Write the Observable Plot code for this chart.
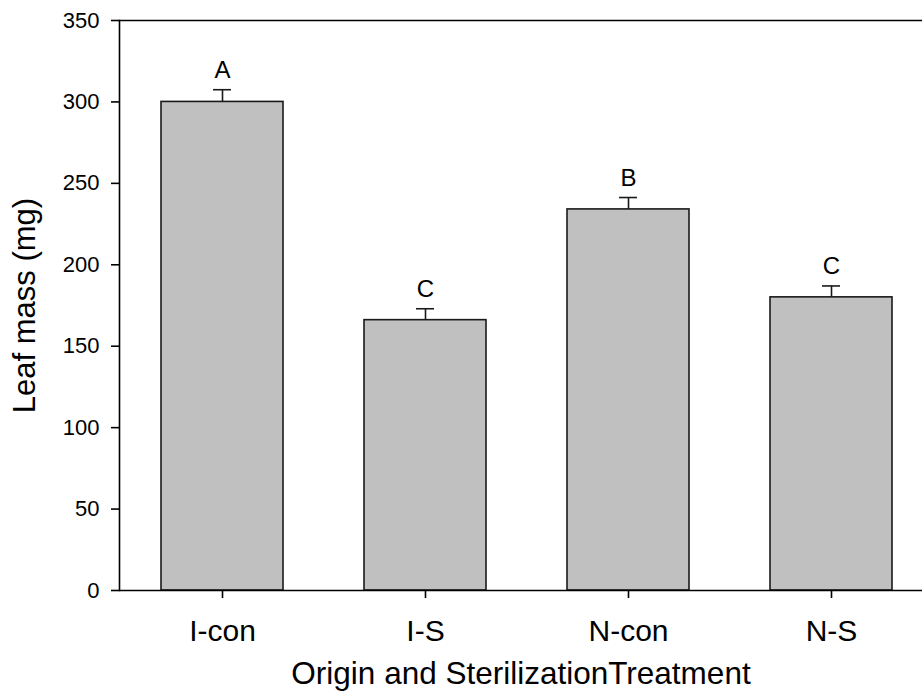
<!DOCTYPE html>
<html><head><meta charset="utf-8">
<script src="https://cdn.jsdelivr.net/npm/d3@7"></script>
<script src="https://cdn.jsdelivr.net/npm/@observablehq/plot@0.6"></script>
<style>body{margin:0;background:#fff;overflow:hidden} svg{display:block}</style>
</head><body><div id="chart"></div>
<script>
const categories = ["I-con", "I-S", "N-con", "N-S"];
const means = [300, 166, 234, 180];
const errors = [7.5, 7, 7.3, 7];
const letters = ["A", "C", "B", "C"];
const yTicks = [0, 50, 100, 150, 200, 250, 300, 350];
const yDomain = [0, 350];

const data = categories.map((c, i) => ({cat: c, mean: means[i], se: errors[i], letter: letters[i]}));

const chart = Plot.plot({
  width: 922, height: 691,
  marginLeft: 119, marginRight: 0, marginTop: 20, marginBottom: 101,
  style: {fontFamily: "'Liberation Sans', Arial, sans-serif", background: "#fff", color: "#000"},
  x: {domain: categories, range: [119, 934], paddingInner: 0.4, paddingOuter: 0.2},
  y: {domain: yDomain},
  marks: [
    Plot.barY(data, {x: "cat", y: "mean", fill: "#c0c0c0", stroke: "#1a1a1a", strokeWidth: 1.6}),
    Plot.ruleX(data, {x: "cat", y1: "mean", y2: d => d.mean + d.se, stroke: "#1a1a1a", strokeWidth: 1.6}),
    Plot.tickY(data, {x: "cat", y: d => d.mean + d.se, stroke: "#1a1a1a", strokeWidth: 1.6, insetLeft: 52, insetRight: 52}),
    Plot.text(data, {x: "cat", y: d => d.mean + d.se, text: "letter", dy: -12, lineAnchor: "bottom", fontSize: 24, fill: "#000"}),
    Plot.ruleY(yDomain, {stroke: "#000", strokeWidth: 1.6}),
    Plot.frame({anchor: "left", stroke: "#000", strokeWidth: 1.6}),
    Plot.axisY({ticks: yTicks, tickSize: 8, tickPadding: 12, fontSize: 22, strokeWidth: 1.6,
      label: "Leaf mass (mg)", labelAnchor: "center", labelOffset: 107, labelArrow: "none"}),
    Plot.axisX({tickSize: 8, tickPadding: 21, fontSize: 30, strokeWidth: 1.6,
      label: "Origin and SterilizationTreatment", labelAnchor: "center", labelOffset: 93, labelArrow: "none"})
  ]
});
document.getElementById("chart").append(chart);
d3.select(chart).selectAll('[aria-label="y-axis label"]').attr("font-size", 31);
d3.select(chart).selectAll('[aria-label="x-axis label"]').attr("font-size", 31.5);
</script>
</body></html>
